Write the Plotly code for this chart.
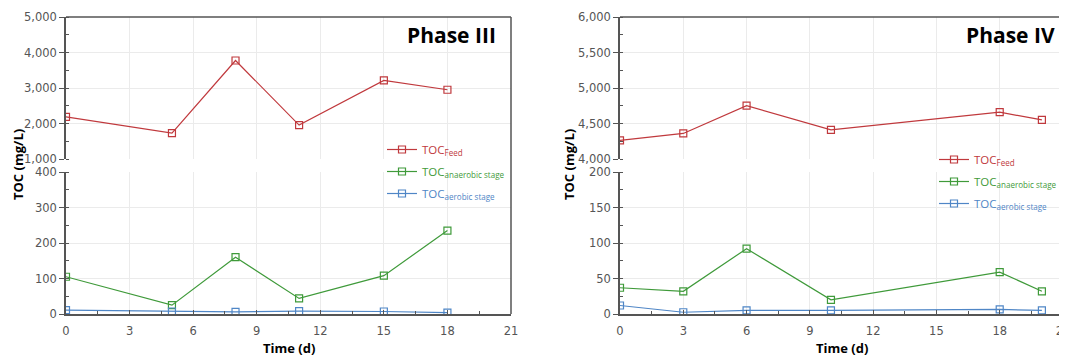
import plotly.graph_objects as go

# ---------------- data ----------------
days_p3 = [0, 5, 8, 11, 15, 18]
feed_p3 = [2185, 1730, 3775, 1955, 3215, 2950]
anaer_p3 = [105, 25, 160, 44, 108, 235]
aer_p3 = [11, 7, 6, 8, 7, 4]

days_p4 = [0, 3, 6, 10, 18, 20]
feed_p4 = [4262, 4360, 4752, 4411, 4659, 4551]
anaer_p4 = [37, 32, 92, 20, 59, 32]
aer_p4 = [12, 2.5, 5, 5, 6.5, 5]

x_ticks = [0, 3, 6, 9, 12, 15, 18, 21]
names = ["TOC<sub>Feed</sub>", "TOC<sub>anaerobic stage</sub>", "TOC<sub>aerobic stage</sub>"]
colors = ["#c0393d", "#3f9a3a", "#4f86c6"]

W, H = 1067, 356
OFF = 8  # page body margin

def px_x(p):
    return (p - OFF) / W

def px_y(p):
    return 1 - (p - OFF) / H

fig = go.Figure()

def add_series(x, y, name, color, xa, ya, legend, grp):
    fig.add_trace(go.Scatter(
        x=x, y=y, name=f"<span style='color:{color}'>{name}</span>",
        mode="lines+markers", xaxis=xa, yaxis=ya, legend=legend, legendgroup=grp,
        line=dict(color=color, width=1.2),
        marker=dict(symbol="square-open", size=7, color=color, line=dict(width=1.2, color=color)),
    ))

# Phase III (left)
add_series(days_p3, feed_p3, names[0], colors[0], "x2", "y2", "legend", "a1")
add_series(days_p3, anaer_p3, names[1], colors[1], "x", "y", "legend", "a2")
add_series(days_p3, aer_p3, names[2], colors[2], "x", "y", "legend", "a3")
# Phase IV (right)
add_series(days_p4, feed_p4, names[0], colors[0], "x4", "y4", "legend2", "b1")
add_series(days_p4, anaer_p4, names[1], colors[1], "x3", "y3", "legend2", "b2")
add_series(days_p4, aer_p4, names[2], colors[2], "x3", "y3", "legend2", "b3")

L_dom = [px_x(66), px_x(511)]
R_dom = [px_x(620), px_x(1063)]
low_dom = [px_y(314), px_y(172)]
up_dom = [px_y(159), px_y(17)]

tickfont = dict(family="DejaVu Sans", size=11.5, color="#555555")
axcol = "#555555"
gridcol = "#ebebeb"

def xaxis_cfg(dom, anchor, labels):
    d = dict(domain=dom, anchor=anchor, range=[0, 21], tickvals=x_ticks,
             showgrid=True, gridcolor=gridcol, gridwidth=1, zeroline=False,
             showticklabels=labels, tickfont=tickfont, fixedrange=True, automargin=False)
    if labels:
        d.update(showline=True, linecolor=axcol, linewidth=1.5,
                 ticks="inside", ticklen=4, tickcolor=axcol, ticklabelstandoff=5,
                 minor=dict(dtick=1.5, tick0=0, ticks="inside", ticklen=3, tickcolor=axcol, showgrid=False))
    else:
        d.update(showline=False, ticks="")
    return d

def yaxis_cfg(dom, anchor, rng, dtick, minor):
    return dict(domain=dom, anchor=anchor, range=rng, dtick=dtick, tick0=0,
                showgrid=True, gridcolor=gridcol, zeroline=False,
                showline=True, linecolor=axcol, linewidth=1.5,
                ticks="outside", ticklen=5, tickcolor=axcol,
                minor=dict(dtick=minor, ticks="inside", ticklen=3, tickcolor=axcol, showgrid=False),
                tickformat=",d", tickfont=tickfont, fixedrange=True, automargin=False)

leg_font = dict(family="Open Sans", size=11.5)
fig.update_layout(
    width=W, height=H,
    margin=dict(l=0, r=0, t=0, b=0, pad=0),
    paper_bgcolor="white", plot_bgcolor="rgba(0,0,0,0)",
    xaxis=xaxis_cfg(L_dom, "y", True),
    xaxis2=xaxis_cfg(L_dom, "y2", False),
    xaxis3=xaxis_cfg(R_dom, "y3", True),
    xaxis4=xaxis_cfg(R_dom, "y4", False),
    yaxis=yaxis_cfg(low_dom, "x", [0, 400], 100, 50),
    yaxis2=yaxis_cfg(up_dom, "x2", [1000, 5000], 1000, 500),
    yaxis3=yaxis_cfg(low_dom, "x3", [0, 200], 50, 25),
    yaxis4=yaxis_cfg(up_dom, "x4", [4000, 6000], 500, 250),
    legend=dict(x=px_x(382), y=px_y(135), xanchor="left", yanchor="top",
                bgcolor="rgba(255,255,255,0)", font=leg_font,
                tracegroupgap=3, itemwidth=30),
    legend2=dict(x=px_x(934), y=px_y(145), xanchor="left", yanchor="top",
                 bgcolor="rgba(255,255,255,0)", font=leg_font,
                 tracegroupgap=3, itemwidth=30),
)

# plot border (top and right edges) for each panel
for dom in (L_dom, R_dom):
    fig.add_shape(type="line", xref="paper", yref="paper", x0=dom[0], x1=dom[1],
                  y0=up_dom[1], y1=up_dom[1], line=dict(color=axcol, width=1.5))
    fig.add_shape(type="line", xref="paper", yref="paper", x0=dom[1], x1=dom[1],
                  y0=low_dom[0], y1=up_dom[1], line=dict(color=axcol, width=1.5))

title_font = dict(family="Open Sans", size=21, color="black")
fig.add_annotation(text="<b>Phase III</b>", xref="paper", yref="paper",
                   x=px_x(498), y=px_y(35), xanchor="right", yanchor="middle",
                   showarrow=False, font=title_font)
fig.add_annotation(text="<b>Phase IV</b>", xref="paper", yref="paper",
                   x=px_x(1057), y=px_y(35), xanchor="right", yanchor="middle",
                   showarrow=False, font=title_font)

lab_font = dict(family="Open Sans", size=13, color="black")
for xc in (18, 569):
    fig.add_annotation(text="<b>TOC (mg/L)</b>", xref="paper", yref="paper",
                       x=px_x(xc), y=px_y(165), textangle=-90,
                       xanchor="center", yanchor="middle",
                       showarrow=False, font=lab_font)
for xc in (289, 842):
    fig.add_annotation(text="<b>Time (d)</b>", xref="paper", yref="paper",
                       x=px_x(xc), y=px_y(348), xanchor="center", yanchor="middle",
                       showarrow=False, font=lab_font)

fig.write_html("out.html")
